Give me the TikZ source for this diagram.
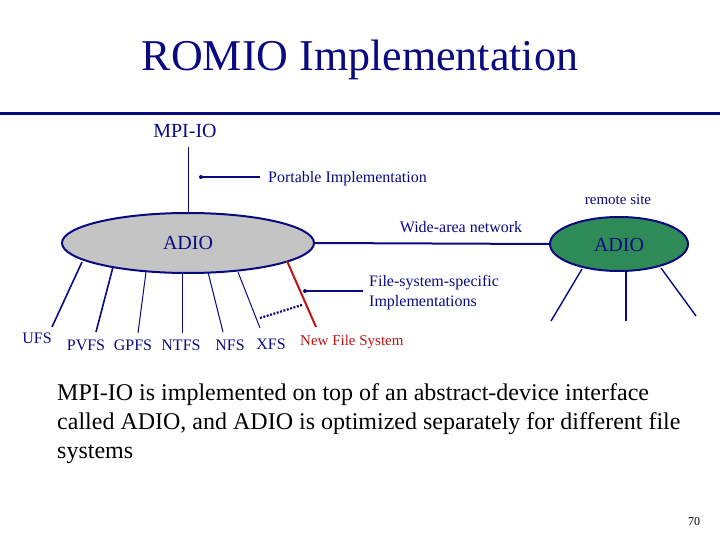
\documentclass[tikz,border=0pt]{standalone}
\usepackage{fontspec}
\setmainfont{Liberation Serif}
\usetikzlibrary{shapes.geometric}
\definecolor{navy}{RGB}{10,10,128}
\definecolor{dkred}{RGB}{190,20,20}
\definecolor{seagrn}{RGB}{46,139,87}
\definecolor{ellgray}{RGB}{196,196,196}
\tikzset{
  lbl/.style={inner sep=0pt, text=navy, font=\fontsize{16}{18}\selectfont},
  fslbl/.style={inner sep=0pt, text=navy, font=\fontsize{16}{18}\selectfont},
  thick line/.style={draw=navy, line width=2pt},
  thin line/.style={draw=navy, line width=1pt},
  pointer/.style={draw=navy, line width=2pt},
  ptdot/.style={circle, fill=navy, inner sep=0pt, minimum size=4pt},
}
\begin{document}
\begin{tikzpicture}[x=1pt,y=-1pt]
\useasboundingbox (0,0) rectangle (720,540);
% title
\node[text=navy, font=\fontsize{44}{48}\selectfont, inner sep=0pt] (title) at (360,60) {ROMIO Implementation};
\coordinate (rl) at (0,114); \coordinate (rr) at (720,114);
\draw[navy, line width=3pt] (rl) -- (rr);
% MPI-IO
\node[lbl, font=\fontsize{20}{22}\selectfont] (mpi) at (185,131) {MPI-IO};
% ADIO ellipses
\node[ellipse, draw=navy, line width=2pt, fill=ellgray, minimum width=252pt, minimum height=60pt, inner sep=0pt] (adio) at (188,243) {};
\node[lbl, font=\fontsize{20}{22}\selectfont] (adiotxt) at (188,243) {ADIO};
\node[ellipse, draw=navy, line width=2pt, fill=seagrn, minimum width=138pt, minimum height=54pt, inner sep=0pt] (radio) at (619,244) {};
\node[lbl, font=\fontsize{20}{22}\selectfont] (radiotxt) at (619,245) {ADIO};
\node[lbl, font=\fontsize{15}{17}\selectfont] (remote) at (618,200) {remote site};
% MPI-IO to ADIO
\coordinate (mpib) at (188,147);
\draw[thin line] (mpib) -- (adio.north);
% portable implementation pointer
\node[lbl, anchor=west] (port) at (268,179) {Portable Implementation};
\coordinate (portend) at (201,177);
\coordinate (portstart) at (260,177);
\draw[pointer] (portstart) -- (portend);
\node[ptdot] (portdot) at (portend) {};
% wide area network
\draw[thick line] (adio.east) -- (radio.west);
\node[lbl] (wan) at (461,227) {Wide-area network};
% file-system specific
\node[lbl, anchor=west, align=left] (fss) at (369,293) {File-system-specific\\[2pt]Implementations};
\coordinate (fsend) at (305,291);
\coordinate (fsstart) at (363,291);
\draw[pointer] (fsstart) -- (fsend);
\node[ptdot] (fsdot) at (fsend) {};
% labels of file systems
\node[fslbl] (ufs) at (37,338) {UFS};
\node[fslbl] (pvfs) at (86,345) {PVFS};
\node[fslbl] (gpfs) at (133,345) {GPFS};
\node[fslbl] (ntfs) at (181,345) {NTFS};
\node[fslbl] (nfs) at (230,345) {NFS};
\node[fslbl] (xfs) at (271,344) {XFS};
\node[fslbl, text=dkred, font=\fontsize{15}{17}\selectfont, anchor=west] (newfs) at (300,342) {New File System};
% line ends
\coordinate (a1) at (82,262); \coordinate (b1) at (52,327);
\coordinate (a2) at (113,267); \coordinate (b2) at (96,332);
\coordinate (a3) at (146,272); \coordinate (b3) at (138,333);
\coordinate (a4) at (182,273); \coordinate (b4) at (182,333);
\coordinate (a5) at (208,272); \coordinate (b5) at (223,332);
\coordinate (a6) at (238,272); \coordinate (b6) at (260,328);
\coordinate (a7) at (287,261); \coordinate (b7) at (316,327);
\coordinate (d1) at (260,318); \coordinate (d2) at (302,305);
\draw[navy, line width=1.6pt] (a1) -- (b1);
\draw[navy, line width=1.6pt] (a2) -- (b2);
\draw[thin line] (a3) -- (b3);
\draw[thin line] (a4) -- (b4);
\draw[thin line] (a5) -- (b5);
\draw[thin line] (a6) -- (b6);
\draw[dkred, line width=2pt] (a7) -- (b7);
\draw[navy, line width=2.2pt, dash pattern=on 2pt off 1.5pt] (d1) -- (d2);
% remote site lines
\coordinate (r1) at (582,269); \coordinate (s1) at (551,321);
\coordinate (r2) at (626,272); \coordinate (s2) at (626,321);
\coordinate (r3) at (661,268); \coordinate (s3) at (696,316);
\draw[thin line, line width=1.4pt] (r1) -- (s1);
\draw[thin line, line width=1.4pt] (r2) -- (s2);
\draw[thin line, line width=1.4pt] (r3) -- (s3);
% body text
\node[anchor=north west, inner sep=0pt, align=left, font=\fontsize{24}{29}\selectfont] (body) at (57,383) {MPI-IO is implemented on top of an abstract-device interface\\ called ADIO, and ADIO is optimized separately for different file\\ systems};
\node[inner sep=0pt, font=\fontsize{12}{14}\selectfont] (pg) at (694,522) {70};
\end{tikzpicture}
\end{document}
